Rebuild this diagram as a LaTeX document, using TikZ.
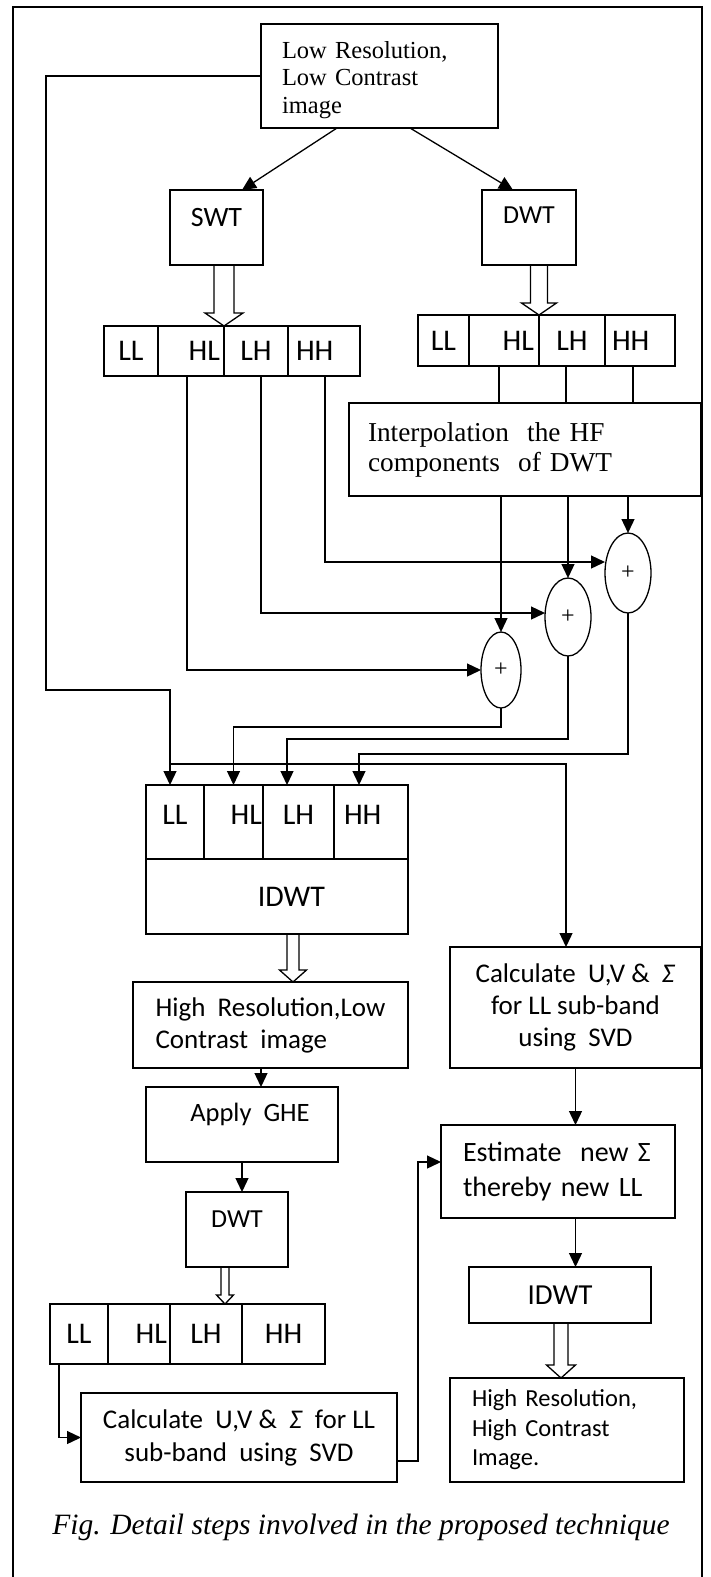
\documentclass[tikz,border=0pt]{standalone}
\usepackage{fontspec}
\setmainfont{Liberation Serif}
\setsansfont{Carlito}
\usetikzlibrary{arrows.meta,shapes.geometric,calc}
\tikzset{
  blk/.style={draw, rectangle, line width=1.3pt, inner sep=0pt, outer sep=0pt, align=center},
  cell/.style={blk, font=\sffamily\fontsize{30}{32}\selectfont},
  sumnode/.style={draw, ellipse, line width=1.3pt, inner sep=0pt, outer sep=0pt, font=\rmfamily\fontsize{24}{24}\selectfont},
  edge/.style={-{Triangle[length=14pt,width=13pt]}, line width=1.3pt},
  wire/.style={line width=1.3pt},
  hollow/.style={line width=1.3pt, line join=miter}
}
% open block arrow from a box down to a point
\newcommand{\hollowarrow}[5]{%
  \draw[hollow] let \p1=#1, \p2=#2 in
    (\x2-#3pt,\y1) -- (\x2-#3pt,\y2+#5pt) -- (\x2-#4pt,\y2+#5pt) -- (\x2,\y2)
    -- (\x2+#4pt,\y2+#5pt) -- (\x2+#3pt,\y2+#5pt) -- (\x2+#3pt,\y1);}

\begin{document}
\begin{tikzpicture}[x=1pt,y=-1pt]
  \useasboundingbox (0,0) rectangle (711,1577);
  \draw[line width=1.2pt] (13,1600) -- (13,7) -- (702,7) -- (702,1600);

  % input and the two transforms
  \node[blk, minimum width=237pt, minimum height=104pt, text width=195pt, align=left,
        text height=25pt, font=\rmfamily\fontsize{24.5}{27.5}\selectfont] (top) at (379.5,76) {Low Resolution,\\Low Contrast\\image};
  \node[blk, minimum width=93pt, minimum height=75pt, text height=18pt, text depth=21pt,
        font=\sffamily\fontsize{28}{30}\selectfont] (swt) at (216.5,227.5) {SWT};
  \node[blk, minimum width=94pt, minimum height=75pt, text height=17pt, text depth=25pt,
        font=\sffamily\fontsize{26}{30}\selectfont] (dwt) at (529,227.5) {DWT};

  % SWT sub-bands
  \node[cell, minimum width=54pt, minimum height=50pt] (sLL) at (131,351) {LL};
  \node[cell, minimum width=66pt, minimum height=50pt, text width=58pt, align=right] (sHL) at (191,351) {HL};
  \node[cell, minimum width=64pt, minimum height=50pt] (sLH) at (256,351) {LH};
  \node[cell, minimum width=72pt, minimum height=50pt, text width=56pt, align=left] (sHH) at (324,351) {HH};

  % DWT sub-bands
  \node[cell, minimum width=51pt, minimum height=51pt] (dLL) at (443.5,340.5) {LL};
  \node[cell, minimum width=70pt, minimum height=51pt, text width=60pt, align=right] (dHL) at (504,340.5) {HL};
  \node[cell, minimum width=66pt, minimum height=51pt] (dLH) at (572,340.5) {LH};
  \node[cell, minimum width=70pt, minimum height=51pt, text width=56pt, align=left] (dHH) at (640,340.5) {HH};

  \node[blk, minimum width=352pt, minimum height=93pt, text width=314pt, align=left,
        font=\rmfamily\fontsize{27.3}{30}\selectfont] (interp) at (525,449.5) {Interpolation\ \ the HF\\components\ \ of DWT};

  % adders
  \node[sumnode, minimum width=40pt, minimum height=76pt] (e1) at (501,670) {+};
  \node[sumnode, minimum width=46pt, minimum height=78pt] (e2) at (568,617) {+};
  \node[sumnode, minimum width=46pt, minimum height=80pt] (e3) at (628,573) {+};

  % IDWT block
  \node[cell, minimum width=58pt, minimum height=74pt, text height=19pt, text depth=15pt] (iLL) at (175,822) {LL};
  \node[cell, minimum width=59pt, minimum height=74pt, text height=19pt, text depth=15pt, text width=57pt, align=right] (iHL) at (233.5,822) {HL};
  \node[cell, minimum width=71pt, minimum height=74pt, text height=19pt, text depth=15pt] (iLH) at (298.5,822) {LH};
  \node[cell, minimum width=74pt, minimum height=74pt, text height=19pt, text depth=15pt, text width=54pt, align=left] (iHH) at (371,822) {HH};
  \node[blk, minimum width=262pt, minimum height=75pt, text width=96pt, align=right,
        font=\sffamily\fontsize{30}{32}\selectfont] (idwt) at (277,896.5) {IDWT};

  % left column
  \node[blk, minimum width=275pt, minimum height=86pt, align=left,
        font=\sffamily\fontsize{27}{32}\selectfont] (hr) at (270.5,1025) {High\ \ Resolution,Low\\Contrast\ \ image};
  \node[blk, minimum width=192pt, minimum height=75pt, text height=18pt, text depth=24pt,
        font=\sffamily\fontsize{26.5}{30}\selectfont] (ghe) at (242,1124.5) {\hspace*{16pt}Apply\ \ GHE};
  \node[blk, minimum width=102pt, minimum height=75pt, text height=17pt, text depth=22pt,
        font=\sffamily\fontsize{26}{30}\selectfont] (dwt2) at (237,1229.5) {DWT};
  \node[cell, minimum width=58pt, minimum height=60pt] (bLL) at (79,1334) {LL};
  \node[cell, minimum width=62pt, minimum height=60pt, text width=56pt, align=right] (bHL) at (139,1334) {HL};
  \node[cell, minimum width=72pt, minimum height=60pt] (bLH) at (206,1334) {LH};
  \node[cell, minimum width=83pt, minimum height=60pt] (bHH) at (283.5,1334) {HH};
  \node[blk, minimum width=316pt, minimum height=89pt,
        font=\sffamily\fontsize{27}{33}\selectfont] (calc2) at (239,1437.5) {Calculate\ \ U,V \&\ \ \textit{Σ}\ \ for LL\\sub-band\ \ using\ \ SVD};

  % right column
  \node[blk, minimum width=251pt, minimum height=121pt,
        font=\sffamily\fontsize{27}{32}\selectfont] (calc1) at (575.5,1007.5) {Calculate\ \ U,V \&\ \ \textit{Σ}\\for LL sub-band\\using\ \ SVD};
  \node[blk, minimum width=234pt, minimum height=93pt, text width=190pt, align=left,
        font=\sffamily\fontsize{28}{35}\selectfont] (est) at (558,1171.5) {Estimate\ \ new Σ\\thereby new LL};
  \node[blk, minimum width=182pt, minimum height=56pt,
        font=\sffamily\fontsize{29}{32}\selectfont] (idwt2) at (560,1295) {IDWT};
  \node[blk, minimum width=234pt, minimum height=104pt, text width=190pt, align=left,
        font=\sffamily\fontsize{24.5}{29.5}\selectfont] (fin) at (567,1430) {High Resolution,\\High Contrast\\Image.};

  \node[font=\rmfamily\itshape\fontsize{29.5}{32}\selectfont] (cap) at (361,1527) {Fig. Detail steps involved in the proposed technique};

  % connectors
  \draw[edge] ([xshift=-42.5pt]top.south) -- ([xshift=25.5pt]swt.north);
  \draw[edge] ([xshift=30.5pt]top.south) -- ([xshift=-16pt]dwt.north);
  \hollowarrow{(swt.south)}{(sLH.north west)}{10}{19}{13}
  \hollowarrow{(dwt.south)}{(dLH.north west)}{8.5}{17.5}{12}

  \foreach \c/\d in {dHL/-5, dLH/-6, dHH/-7}
    \draw[wire] ($(\c.south)+(\d,0)$) -- ($(\c.south |- interp.north)+(\d,0)$);
  \draw[edge] (interp.south -| e1.north) -- (e1.north);
  \draw[edge] (interp.south -| e2.north) -- (e2.north);
  \draw[edge] (interp.south -| e3.north) -- (e3.north);

  \draw[edge] ([xshift=-4pt]sHL.south) |- (e1.west);
  \draw[edge] ([xshift=5pt]sLH.south) |- ([yshift=4pt]e2.west);
  \draw[edge] ([xshift=1pt]sHH.south) |- ([yshift=11pt]e3.west);

  \coordinate (fbk) at (46,690);
  \coordinate (brn) at (170,764);
  \draw[edge] (top.west) -| (fbk) -| ([xshift=-5pt]iLL.north);
  \draw[edge] (brn) -| ([xshift=-9.5pt]calc1.north);
  \draw[edge] (e1.south) -- ++(0,19) -| (iHL.north);
  \draw[edge] (e2.south) -- ++(0,83) -| ([xshift=-11.5pt]iLH.north);
  \draw[edge] (e3.south) -- ++(0,141) -| ([xshift=-12pt]iHH.north);

  \hollowarrow{(idwt.south)}{([xshift=22.5pt]hr.north)}{6}{13.5}{12}
  \draw[edge] ([xshift=-9.5pt]hr.south) -- ($(hr.south |- ghe.north)+(-9.5,0)$);
  \draw[edge] (ghe.south) -- (ghe.south |- dwt2.north);
  \hollowarrow{(dwt2.south)}{([xshift=19pt]bLH.north)}{4}{8.5}{9}
  \draw[edge] ([xshift=-20pt]bLL.south) |- (calc2.west);

  \coordinate (rise) at (418,1461);
  \draw[edge] ([yshift=-23.5pt]calc2.east) -- (rise) |- ([yshift=9.5pt]est.west);
  \draw[edge] (calc1.south) -- (calc1.south |- est.north);
  \draw[edge] (est.south -| calc1.south) -- (calc1.south |- idwt2.north);
  \hollowarrow{(idwt2.south)}{([xshift=-6pt]fin.north)}{7}{14.5}{13}
\end{tikzpicture}
\end{document}
